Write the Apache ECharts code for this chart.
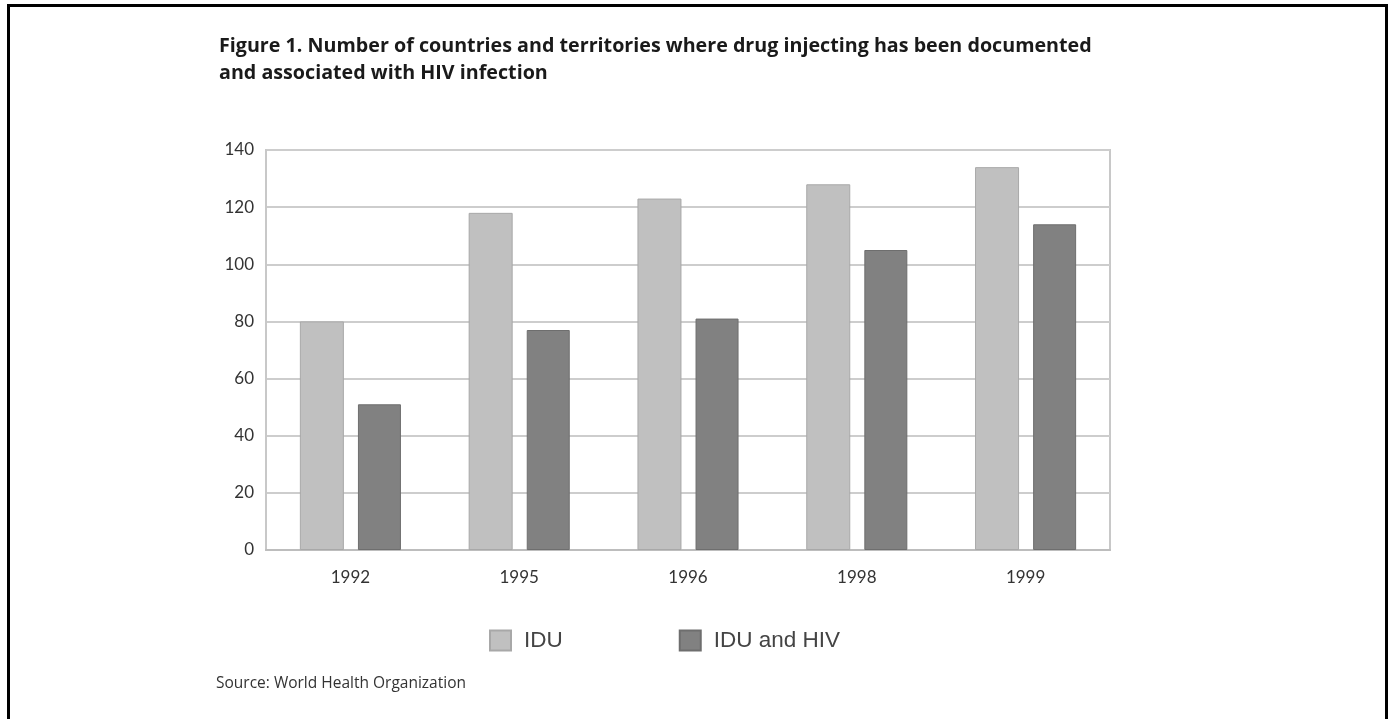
<!DOCTYPE html>
<html>
<head>
<meta charset="utf-8">
<script src="https://cdn.jsdelivr.net/npm/echarts@6/dist/echarts.min.js"></script>
<style>
  body { margin: 0; background: #fff; }
  #chart { width: 1388px; height: 719px; }
  #frame {
    position: absolute; left: 7px; top: 4px; width: 1375px; height: 760px;
    border: 3px solid #000; border-bottom: none; pointer-events: none;
  }
</style>
</head>
<body>
<div id="chart"></div>
<div id="frame"></div>
<script>
var years = ['1992', '1995', '1996', '1998', '1999'];
var idu = [80, 118, 123, 128, 134];
var iduHiv = [51, 77, 81, 105, 114];
var yTicks = [0, 20, 40, 60, 80, 100, 120, 140];

var chart = echarts.init(document.getElementById('chart'));
var font = 'Lato, "Open Sans", sans-serif';
option = {
    animation: false,
    backgroundColor: '#fff',
    title: {
        text: 'Figure 1. Number of countries and territories where drug injecting has been documented\nand associated with HIV infection',
        left: 214,
        top: 28,
        textStyle: { fontSize: 19.7, fontWeight: 'bold', color: '#1a1a1a', fontFamily: '"Open Sans", sans-serif', lineHeight: 27 }
    },
    legend: {
        data: ['IDU', 'IDU and HIV'],
        left: 484,
        top: 624,
        itemWidth: 21,
        itemHeight: 20,
        itemGap: 116,
        icon: 'rect',
        textStyle: { fontSize: 22.5, color: '#444', fontFamily: '"Liberation Sans", Arial, sans-serif', padding: [0, 0, 0, 8] }
    },
    graphic: [{
        type: 'text',
        left: 216,
        top: 676,
        style: { text: 'Source: World Health Organization', fontSize: 15.5, fill: '#333', fontFamily: '"Open Sans", sans-serif' }
    }],
    grid: {
        left: 266, right: 278, top: 150, bottom: 169,
        show: true, borderColor: '#c8c8c8', borderWidth: 2
    },
    xAxis: {
        type: 'category',
        data: years,
        axisTick: { show: false },
        axisLine: { lineStyle: { color: '#bdbdbd', width: 2 } },
        axisLabel: { fontSize: 17, color: '#333', margin: 19, fontFamily: font }
    },
    yAxis: {
        type: 'value',
        min: yTicks[0],
        max: yTicks[yTicks.length - 1],
        interval: 20,
        axisLine: { show: true, lineStyle: { color: '#c8c8c8', width: 2 } },
        axisTick: { show: false },
        splitLine: { lineStyle: { color: '#cdcdcd', width: 2 } },
        axisLabel: { fontSize: 17, color: '#333', margin: 12, fontFamily: font }
    },
    series: [
        {
            name: 'IDU',
            type: 'bar',
            data: idu,
            barWidth: 44,
            barGap: '32%',
            itemStyle: { color: '#c0c0c0', borderColor: '#a8a8a8', borderWidth: 1 }
        },
        {
            name: 'IDU and HIV',
            type: 'bar',
            data: iduHiv,
            barWidth: 43,
            itemStyle: { color: '#818181', borderColor: '#6e6e6e', borderWidth: 1 }
        }
    ]
};
chart.setOption(option);
</script>
</body>
</html>
